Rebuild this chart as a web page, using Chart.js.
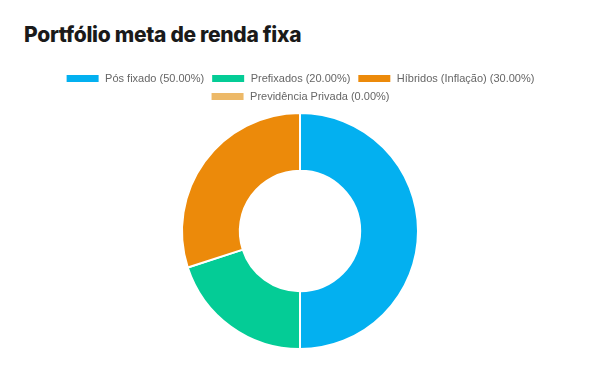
<!DOCTYPE html>
<html>
<head>
<meta charset="utf-8">
<script src="https://cdn.jsdelivr.net/npm/chart.js@4"></script>
<style>
  body { margin: 0; background: #fff; width: 600px; height: 371px; overflow: hidden; }
  h1 { position: absolute; left: 24px; top: 22px; margin: 0; font-family: "Inter", sans-serif; font-weight: 800; font-size: 21px; color: #1a1a1a; letter-spacing: -0.3px; }
  #wrap { position: absolute; left: 0; top: 66px; width: 600px; height: 284px; }
</style>
</head>
<body>
<h1>Portfólio meta de renda fixa</h1>
<div id="wrap"><canvas id="doughnut-chart"></canvas></div>
<script>
var categories = ["Pós fixado", "Prefixados", "Híbridos (Inflação)", "Previdência Privada"];
var values = [50, 20, 30, 0];
var colors = ["#03b0f0", "#04cc96", "#ec8a0a", "#edb968"];

var labels = categories.map(function (c, i) {
	return c + " (" + values[i].toFixed(2) + "%)";
});

new Chart(document.getElementById("doughnut-chart"), {
	type: 'doughnut',
	data: {
		labels: labels,
		datasets: [{
			data: values,
			backgroundColor: colors,
			borderColor: "#ffffff",
			borderWidth: 2
		}]
	},
	options: {
		responsive: true,
		maintainAspectRatio: false,
		animation: false,
		cutout: '51%',
		plugins: {
			legend: {
				display: true,
				position: 'top',
				labels: {
					boxWidth: 34,
					boxHeight: 9,
					padding: 7,
					color: '#666',
					font: { family: 'Liberation Sans, Arial, sans-serif', size: 11 }
				}
			},
			tooltip: { enabled: false }
		}
	}
});
</script>
</body>
</html>
